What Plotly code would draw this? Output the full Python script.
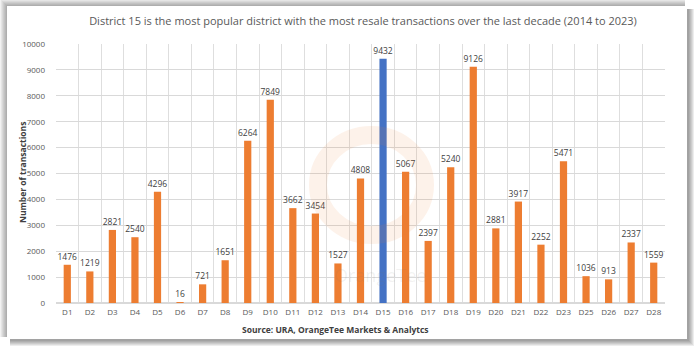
import plotly.graph_objects as go

districts = ["D1","D2","D3","D4","D5","D6","D7","D8","D9","D10","D11","D12","D13","D14",
             "D15","D16","D17","D18","D19","D20","D21","D22","D23","D25","D26","D27","D28"]
transactions = [1476,1219,2821,2540,4296,16,721,1651,6264,7849,3662,3454,1527,4808,
                9432,5067,2397,5240,9126,2881,3917,2252,5471,1036,913,2337,1559]
highlight = "D15"
y_ticks = list(range(0, 10001, 1000))
y_ticktext = [str(v) for v in y_ticks]

W, H = 699, 352
L, R, T, B = 56, 34, 44, 49
pw, ph = W - L - R, H - T - B

def px(x):
    return (x - L) / pw

def py(y):
    return (H - B - y) / ph

colors = ["#4472C4" if d == highlight else "#ED7D31" for d in districts]

fig = go.Figure()
fig.add_trace(go.Bar(
    x=districts, y=transactions, marker=dict(color=colors, line=dict(width=0)),
    width=0.32, text=[str(v) for v in transactions], textposition="outside",
    constraintext="none",
    textfont=dict(family="Open Sans", size=8.5, color="#404040"), cliponaxis=False,
    hoverinfo="x+y",
))

shapes = []
# left / top soft shadow
for i in range(7):
    d = 7 - i
    shapes.append(dict(type="rect", xref="paper", yref="paper", layer="below",
                       x0=px(7 - d), x1=px(687 - 2), y0=py(339 - 2), y1=py(6 - d),
                       fillcolor="rgba(0,0,0,0.05)", line=dict(width=0)))
# right / bottom shadow
for i in range(6):
    d = 7 - i
    shapes.append(dict(type="rect", xref="paper", yref="paper", layer="below",
                       x0=px(7 + 3), x1=px(687 + d), y0=py(339 + d), y1=py(6 + 3),
                       fillcolor="rgba(0,0,0,0.07)", line=dict(width=0)))
shapes.append(dict(type="rect", xref="paper", yref="paper", layer="below",
                   x0=px(7), x1=px(687), y0=py(339), y1=py(6),
                   fillcolor="white", line=dict(width=0)))
# watermark ring
shapes.append(dict(type="circle", xref="paper", yref="paper", layer="above",
                   x0=px(318), x1=px(425), y0=py(235), y1=py(135),
                   fillcolor="rgba(0,0,0,0)", line=dict(color="rgba(237,125,49,0.10)", width=18)))
fig.update_layout(shapes=shapes)

fig.add_annotation(text="OrangeTee", xref="paper", yref="paper", x=px(380), y=py(289),
                   showarrow=False, font=dict(family="Open Sans", size=18, color="rgba(120,120,120,0.10)"))
fig.add_annotation(text="Source: URA, OrangeTee Markets & Analytcs", xref="paper", yref="paper",
                   x=px(335), y=py(329), showarrow=False, xanchor="center", yanchor="middle",
                   font=dict(family="Open Sans", size=8.5, color="#404040", weight="bold"))
fig.add_annotation(text="Number of transactions", xref="paper", yref="paper",
                   x=px(22), y=py(173), showarrow=False, textangle=-90,
                   xanchor="center", yanchor="middle",
                   font=dict(family="Open Sans", size=8.5, color="#404040", weight="bold"))

fig.update_layout(
    width=W, height=H, margin=dict(l=L, r=R, t=T, b=B),
    paper_bgcolor="white", plot_bgcolor="#f5f5f5",
    title=dict(text="District 15 is the most popular district with the most resale transactions over the last decade (2014 to 2023)",
               x=px(363), xanchor="center", xref="paper", y=1 - 21 / H, yanchor="middle",
               font=dict(family="Open Sans", size=11, color="#595959")),
    showlegend=False, bargap=0.68,
)
fig.update_xaxes(type="category", tickson="boundaries", showgrid=True, gridcolor="#dedede",
                 gridwidth=1, ticks="", showline=False, tickangle=0, ticklabelstandoff=3,
                 tickfont=dict(family="Open Sans", size=8, color="#595959"))
fig.update_yaxes(range=[0, 10000], tickvals=y_ticks, ticktext=y_ticktext, showgrid=True,
                 gridcolor="#d9d9d9", zeroline=True, zerolinecolor="#d9d9d9", ticks="",
                 ticklabelstandoff=10,
                 tickfont=dict(family="Open Sans", size=8, color="#595959"))

fig.write_html("out.html")
